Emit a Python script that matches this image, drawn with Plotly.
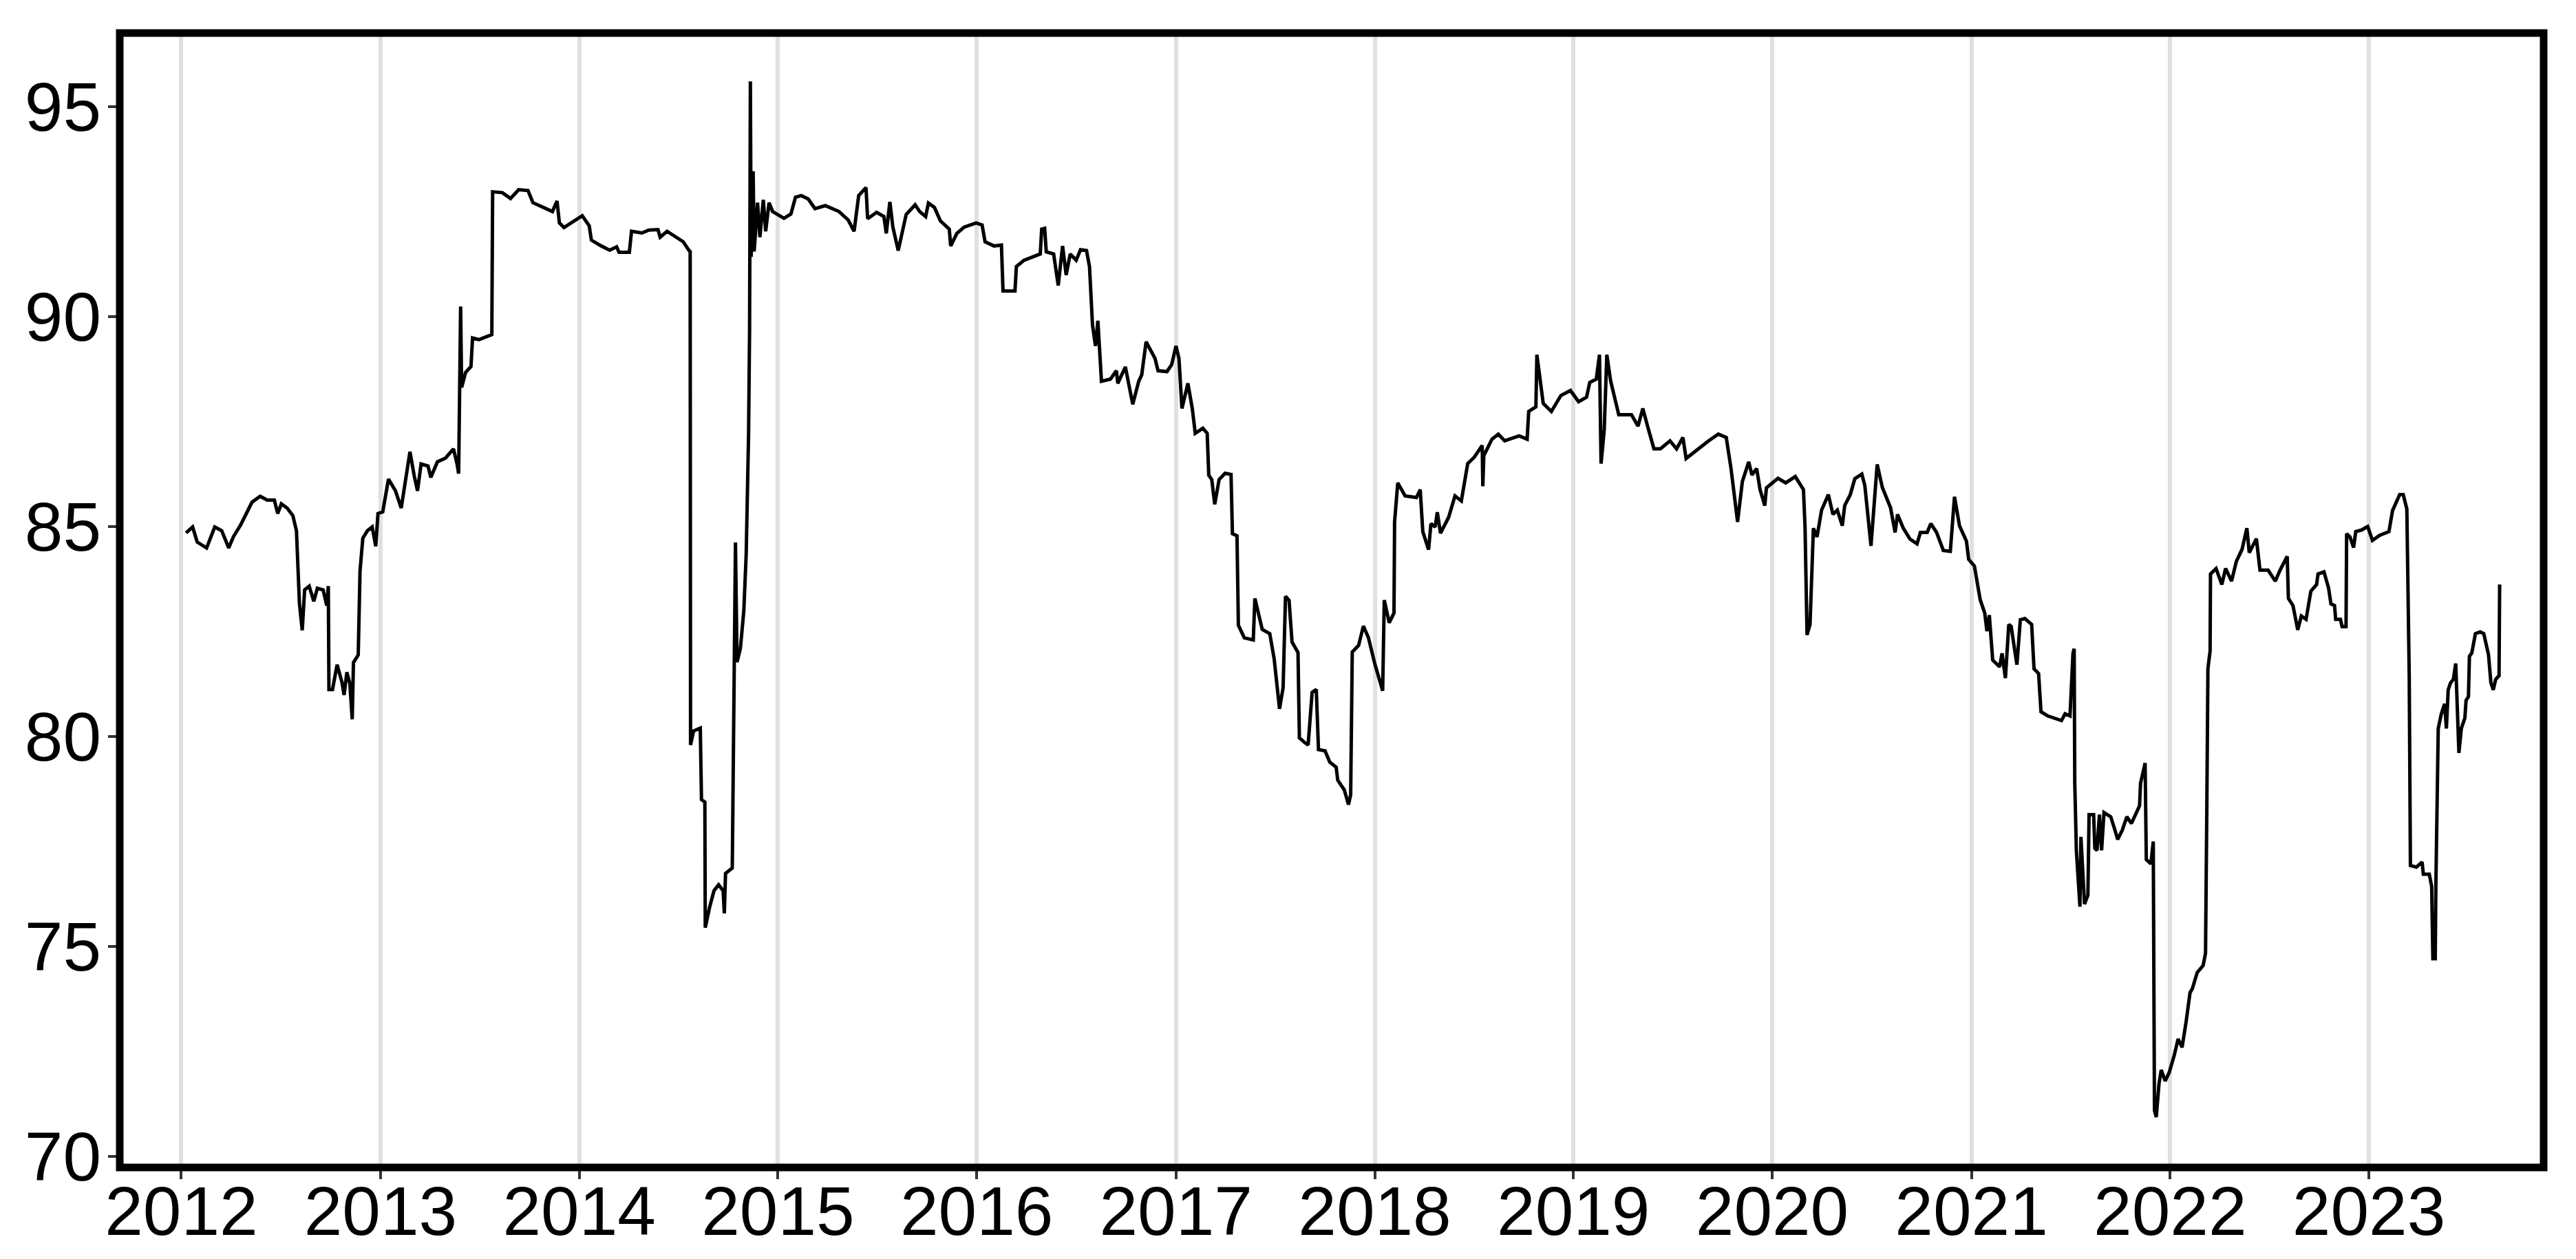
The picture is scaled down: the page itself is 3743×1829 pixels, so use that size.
import pandas as pd
import plotly.graph_objects as go

# ---- data: decimal year -> value ----
t_2012_2013 = [2012.024, 2012.057, 2012.080, 2012.127, 2012.168, 2012.203, 2012.238, 2012.262, 2012.297, 2012.326,
               2012.355, 2012.396, 2012.431, 2012.467, 2012.484, 2012.502, 2012.531, 2012.560, 2012.578, 2012.593,
               2012.607, 2012.619, 2012.642, 2012.665, 2012.683, 2012.712, 2012.730, 2012.738, 2012.741, 2012.759,
               2012.782, 2012.806, 2012.817, 2012.831, 2012.846, 2012.858, 2012.864, 2012.888, 2012.897, 2012.911,
               2012.934, 2012.958, 2012.976, 2012.987, 2013.011, 2013.040, 2013.075, 2013.104, 2013.122, 2013.148,
               2013.169, 2013.186, 2013.204, 2013.239, 2013.253, 2013.286, 2013.327, 2013.367, 2013.385, 2013.393,
               2013.403, 2013.408, 2013.428, 2013.455, 2013.463, 2013.496, 2013.560, 2013.564, 2013.613, 2013.654,
               2013.695, 2013.742]
v_2012_2013 = [84.85, 84.99, 84.63, 84.49, 84.99, 84.90, 84.49, 84.76, 85.03, 85.31,
               85.58, 85.72, 85.63, 85.63, 85.31, 85.54, 85.44, 85.26, 84.90, 83.17,
               82.53, 83.49, 83.58, 83.22, 83.53, 83.49, 83.12, 83.58, 81.12, 81.12,
               81.71, 81.30, 80.99, 81.53, 81.26, 80.41, 81.76, 81.94, 83.94, 84.72,
               84.90, 84.99, 84.53, 85.31, 85.35, 86.13, 85.85, 85.44, 86.04, 86.78,
               86.22, 85.85, 86.49, 86.44, 86.17, 86.54, 86.63, 86.85, 86.49, 86.26,
               90.24, 88.31, 88.67, 88.81, 89.49, 89.45, 89.57, 92.97, 92.95, 92.81,
               93.02, 93.00]

t_2013_2015 = [2013.767, 2013.819, 2013.865, 2013.888, 2013.900, 2013.923, 2013.969, 2014.015, 2014.050, 2014.061,
               2014.107, 2014.153, 2014.188, 2014.200, 2014.252, 2014.263, 2014.315, 2014.350, 2014.396, 2014.407,
               2014.442, 2014.477, 2014.523, 2014.551, 2014.558, 2014.560, 2014.575, 2014.609, 2014.615, 2014.632,
               2014.634, 2014.655, 2014.678, 2014.701, 2014.724, 2014.730, 2014.736, 2014.770, 2014.776, 2014.786,
               2014.794, 2014.811, 2014.828, 2014.840, 2014.852, 2014.857, 2014.861, 2014.865, 2014.875, 2014.880,
               2014.897, 2014.909, 2014.926, 2014.938, 2014.955, 2014.973, 2015.030, 2015.065, 2015.088, 2015.117,
               2015.152, 2015.186, 2015.238, 2015.307, 2015.353]
v_2013_2015 = [92.71, 92.60, 92.50, 92.75, 92.23, 92.12, 92.26, 92.40, 92.16, 91.82,
               91.69, 91.58, 91.66, 91.53, 91.53, 92.03, 91.99, 92.06, 92.07, 91.89,
               92.03, 91.92, 91.78, 91.58, 91.55, 79.80, 80.13, 80.20, 78.50, 78.44,
               75.45, 75.92, 76.33, 76.47, 76.33, 75.79, 76.74, 76.87, 79.39, 84.62,
               81.77, 82.11, 82.99, 84.35, 87.20, 89.65, 95.60, 91.42, 93.46, 91.55,
               92.71, 91.89, 92.78, 92.03, 92.71, 92.50, 92.34, 92.44, 92.84, 92.88,
               92.80, 92.57, 92.64, 92.50, 92.30]

t_2015_2017 = [2015.383, 2015.406, 2015.443, 2015.451, 2015.496, 2015.533, 2015.545, 2015.563, 2015.578, 2015.605,
               2015.645, 2015.690, 2015.713, 2015.743, 2015.757, 2015.787, 2015.817, 2015.862, 2015.869, 2015.900,
               2015.937, 2015.997, 2016.027, 2016.042, 2016.087, 2016.124, 2016.132, 2016.192, 2016.199, 2016.237,
               2016.281, 2016.319, 2016.326, 2016.341, 2016.349, 2016.386, 2016.409, 2016.431, 2016.449, 2016.469,
               2016.499, 2016.521, 2016.551, 2016.566, 2016.581, 2016.596, 2016.608, 2016.618, 2016.626, 2016.671,
               2016.701, 2016.708, 2016.746, 2016.783, 2016.813, 2016.828, 2016.850, 2016.895, 2016.910, 2016.955,
               2016.978, 2017.000, 2017.015, 2017.030, 2017.060, 2017.082, 2017.097, 2017.135, 2017.157, 2017.165,
               2017.180, 2017.195, 2017.217, 2017.247, 2017.277, 2017.284, 2017.307, 2017.314, 2017.344, 2017.389,
               2017.397, 2017.434, 2017.472, 2017.494, 2017.521, 2017.539, 2017.551, 2017.569, 2017.584, 2017.614,
               2017.621, 2017.644, 2017.665, 2017.685, 2017.706, 2017.717]
v_2015_2017 = [92.03, 92.88, 93.07, 92.33, 92.48, 92.38, 91.98, 92.73, 92.13, 91.57,
               92.43, 92.66, 92.50, 92.38, 92.70, 92.60, 92.28, 92.08, 91.68, 91.98,
               92.13, 92.23, 92.18, 91.78, 91.68, 91.70, 90.61, 90.61, 91.19, 91.34,
               91.41, 91.49, 92.08, 92.10, 91.54, 91.49, 90.74, 91.68, 90.99, 91.49,
               91.34, 91.59, 91.57, 91.19, 89.80, 89.30, 89.90, 89.25, 88.46, 88.51,
               88.71, 88.41, 88.80, 87.91, 88.46, 88.61, 89.40, 89.00, 88.71, 88.69,
               88.85, 89.30, 89.00, 87.81, 88.41, 87.81, 87.22, 87.34, 87.22, 86.22,
               86.12, 85.53, 86.12, 86.27, 86.24, 84.83, 84.78, 82.65, 82.35, 82.30,
               83.29, 82.55, 82.45, 81.85, 80.66, 81.16, 83.34, 83.24, 82.25, 82.00,
               79.97, 79.87, 79.80, 81.05, 81.12, 79.69]

t_2017_2020 = [2017.750, 2017.774, 2017.806, 2017.814, 2017.847, 2017.868, 2017.879, 2017.887, 2017.919, 2017.943,
               2017.968, 2018.000, 2018.040, 2018.048, 2018.073, 2018.097, 2018.100, 2018.116, 2018.153, 2018.210,
               2018.229, 2018.242, 2018.271, 2018.283, 2018.304, 2018.315, 2018.331, 2018.372, 2018.404, 2018.436,
               2018.468, 2018.501, 2018.541, 2018.544, 2018.549, 2018.590, 2018.622, 2018.654, 2018.727, 2018.767,
               2018.775, 2018.811, 2018.816, 2018.848, 2018.889, 2018.937, 2018.985, 2019.026, 2019.066, 2019.082,
               2019.115, 2019.131, 2019.139, 2019.155, 2019.168, 2019.187, 2019.228, 2019.252, 2019.292, 2019.325,
               2019.349, 2019.373, 2019.405, 2019.438, 2019.486, 2019.519, 2019.551, 2019.567, 2019.616, 2019.680,
               2019.729, 2019.769, 2019.793, 2019.826, 2019.850, 2019.882, 2019.898, 2019.922, 2019.939, 2019.963,
               2019.971, 2020.029, 2020.068, 2020.116, 2020.157, 2020.165, 2020.175, 2020.190]
v_2017_2020 = [79.66, 79.39, 79.27, 78.96, 78.73, 78.38, 78.61, 82.01, 82.17, 82.63,
               82.36, 81.74, 81.09, 83.25, 82.71, 82.94, 85.11, 86.04, 85.73, 85.69,
               85.88, 84.88, 84.45, 85.07, 84.99, 85.34, 84.84, 85.22, 85.73, 85.61,
               86.50, 86.65, 86.93, 85.96, 86.69, 87.08, 87.20, 87.04, 87.16, 87.08,
               87.74, 87.85, 89.09, 87.93, 87.74, 88.12, 88.24, 87.97, 88.08, 88.43,
               88.51, 89.09, 86.50, 87.31, 89.09, 88.47, 87.66, 87.66, 87.66, 87.39,
               87.81, 87.39, 86.85, 86.85, 87.04, 86.85, 87.12, 86.62, 86.81, 87.04,
               87.20, 87.12, 86.38, 85.11, 86.07, 86.54, 86.23, 86.38, 85.88, 85.50,
               85.92, 86.15, 86.04, 86.19, 85.88, 84.99, 82.42, 82.67]

t_2020_2022 = [2020.207, 2020.225, 2020.248, 2020.282, 2020.305, 2020.327, 2020.352, 2020.364, 2020.392, 2020.415,
               2020.450, 2020.465, 2020.496, 2020.513, 2020.527, 2020.553, 2020.594, 2020.617, 2020.629, 2020.658,
               2020.692, 2020.727, 2020.744, 2020.778, 2020.796, 2020.825, 2020.859, 2020.894, 2020.915, 2020.940,
               2020.975, 2020.986, 2021.015, 2021.044, 2021.067, 2021.078, 2021.090, 2021.107, 2021.142, 2021.154,
               2021.171, 2021.188, 2021.200, 2021.217, 2021.229, 2021.246, 2021.269, 2021.303, 2021.315, 2021.338,
               2021.350, 2021.384, 2021.425, 2021.453, 2021.471, 2021.496, 2021.511, 2021.517, 2021.520, 2021.528,
               2021.546, 2021.551, 2021.569, 2021.586, 2021.592, 2021.615, 2021.621, 2021.632, 2021.644, 2021.655,
               2021.667, 2021.701, 2021.719, 2021.736, 2021.759, 2021.782, 2021.805, 2021.846, 2021.851, 2021.874,
               2021.880, 2021.903, 2021.915, 2021.921, 2021.930, 2021.944, 2021.955, 2021.975, 2021.995, 2022.020,
               2022.040, 2022.060, 2022.080, 2022.100]
v_2020_2022 = [84.96, 84.75, 85.39, 85.76, 85.29, 85.39, 85.02, 85.50, 85.76, 86.14,
               86.25, 85.98, 84.54, 85.61, 86.48, 85.93, 85.45, 84.86, 85.29, 84.96,
               84.70, 84.59, 84.86, 84.86, 85.07, 84.86, 84.43, 84.41, 85.71, 85.02,
               84.65, 84.22, 84.06, 83.26, 82.94, 82.51, 82.89, 81.82, 81.66, 81.98,
               81.39, 82.67, 82.62, 82.08, 81.71, 82.78, 82.81, 82.67, 81.61, 81.50,
               80.59, 80.49, 80.43, 80.38, 80.54, 80.49, 81.98, 82.09, 78.89, 77.29,
               75.95, 77.61, 76.01, 76.22, 78.14, 78.14, 77.34, 77.29, 78.14, 77.29,
               78.19, 78.09, 77.82, 77.55, 77.77, 78.09, 77.93, 78.35, 78.89, 79.37,
               77.07, 76.97, 77.50, 71.10, 70.94, 71.74, 72.06, 71.80, 72.00, 72.40,
               72.80, 72.60, 73.20, 73.90]

t_2022_2023 = [2022.112, 2022.124, 2022.136, 2022.166, 2022.178, 2022.184, 2022.190, 2022.201, 2022.203, 2022.231,
               2022.260, 2022.279, 2022.309, 2022.333, 2022.362, 2022.386, 2022.398, 2022.434, 2022.452, 2022.493,
               2022.529, 2022.553, 2022.589, 2022.595, 2022.618, 2022.642, 2022.660, 2022.684, 2022.708, 2022.737,
               2022.744, 2022.774, 2022.797, 2022.809, 2022.827, 2022.833, 2022.857, 2022.865, 2022.885, 2022.888,
               2022.905, 2022.923, 2022.934, 2022.964, 2022.994, 2023.018, 2023.054, 2023.101, 2023.119, 2023.155,
               2023.173, 2023.191, 2023.197, 2023.203, 2023.209, 2023.239, 2023.268, 2023.274, 2023.304, 2023.316,
               2023.322, 2023.334, 2023.337, 2023.342, 2023.349, 2023.364, 2023.381, 2023.390, 2023.399, 2023.411,
               2023.425, 2023.437, 2023.453, 2023.465, 2023.483, 2023.489, 2023.501, 2023.506, 2023.518, 2023.536,
               2023.560, 2023.578, 2023.602, 2023.614, 2023.626, 2023.638, 2023.655, 2023.658]
v_2022_2023 = [74.00, 74.17, 74.38, 74.55, 74.84, 78.02, 81.62, 82.04, 83.87, 84.00,
               83.62, 84.00, 83.70, 84.17, 84.46, 84.96, 84.38, 84.71, 83.96, 83.96,
               83.70, 83.96, 84.29, 83.29, 83.12, 82.54, 82.87, 82.79, 83.46, 83.62,
               83.87, 83.92, 83.54, 83.16, 83.12, 82.79, 82.79, 82.62, 82.62, 84.83,
               84.75, 84.50, 84.88, 84.92, 85.00, 84.67, 84.79, 84.88, 85.38, 85.76,
               85.76, 85.42, 83.70, 81.45, 76.93, 76.89, 77.01, 76.72, 76.72, 76.43,
               74.71, 74.71, 76.43, 78.77, 80.19, 80.53, 80.78, 80.19, 81.11, 81.28,
               81.36, 81.74, 79.61, 80.19, 80.44, 80.86, 80.95, 81.91, 81.99, 82.45,
               82.49, 82.45, 81.95, 81.28, 81.11, 81.36, 81.45, 83.62]

tick_years = list(range(2012, 2024))
y_ticks = [70, 75, 80, 85, 90, 95]
x_range = ["2011-09-10", "2023-11-18"]
y_range = [69.74, 96.75]


def to_date(dy):
    yr = int(dy)
    start = pd.Timestamp(year=yr, month=1, day=1)
    days = (pd.Timestamp(year=yr + 1, month=1, day=1) - start).days
    return start + pd.Timedelta(days=(dy - yr) * days)


t_all = t_2012_2013 + t_2013_2015 + t_2015_2017 + t_2017_2020 + t_2020_2022 + t_2022_2023
v_all = v_2012_2013 + v_2013_2015 + v_2015_2017 + v_2017_2020 + v_2020_2022 + v_2022_2023
dates = [to_date(t) for t in t_all]

fig = go.Figure()
fig.add_trace(go.Scatter(x=dates, y=v_all, mode="lines",
                         line=dict(color="black", width=5), showlegend=False))

font = dict(family="Liberation Sans, Arial, sans-serif", size=100, color="black")

fig.update_layout(
    width=3735, height=1813,
    margin=dict(l=166, r=47, t=40, b=125, autoexpand=False),
    paper_bgcolor="white", plot_bgcolor="white",
    font=font,
    xaxis=dict(type="date", range=x_range,
               tickmode="array",
               tickvals=[f"{y}-01-01" for y in tick_years],
               ticktext=[str(y) for y in tick_years],
               showgrid=True, gridcolor="#E0E0E0", gridwidth=6,
               zeroline=False, showline=False,
               ticks="outside", ticklen=16, tickwidth=4, tickcolor="#333333",
               ticklabelstandoff=-39,
               tickfont=font),
    yaxis=dict(range=y_range, tickmode="array", tickvals=y_ticks,
               ticktext=[str(v) for v in y_ticks],
               showgrid=False, zeroline=False, showline=False,
               ticks="outside", ticklen=16, tickwidth=4, tickcolor="#333333",
               ticklabelstandoff=-10,
               tickfont=font),
    shapes=[dict(type="rect", xref="paper", yref="paper", x0=0, x1=1, y0=0, y1=1,
                 line=dict(color="black", width=11), fillcolor="rgba(0,0,0,0)", layer="above")],
)

fig.write_html("out.html")
